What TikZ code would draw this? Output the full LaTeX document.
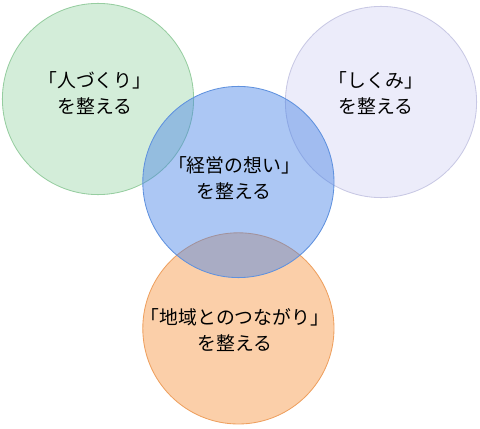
\documentclass[tikz,border=0pt]{standalone}
\usepackage{fontspec}
\newfontfamily\jp{Noto Sans CJK JP}
\definecolor{greenfill}{RGB}{168,220,180}
\definecolor{greenline}{RGB}{150,205,160}
\definecolor{purplefill}{RGB}{236,236,250}
\definecolor{purpleline}{RGB}{200,200,228}
\definecolor{bluefill}{RGB}{70,130,230}
\definecolor{blueline}{RGB}{95,145,222}
\definecolor{orangefill}{RGB}{245,140,50}
\definecolor{orangeline}{RGB}{238,160,95}
\begin{document}
\begin{tikzpicture}[
    ring/.style={circle, minimum size=4.78cm, inner sep=0pt, line width=0.6pt},
    label/.style={align=center, font=\jp\fontsize{13.4}{18.5}\selectfont}
]
        \useasboundingbox (0,0) rectangle (12,10.7);

        \node[ring, draw=greenline, fill=greenfill, fill opacity=0.5] (people) at (2.45,8.225) {};
        \node[ring, draw=purpleline, fill=purplefill] (system) at (9.525,8.15) {};
        \node[ring, draw=orangeline, fill=orangefill, fill opacity=0.42] (region) at (5.96,2.49) {};
        \node[ring, draw=blueline, fill=bluefill, fill opacity=0.45] (vision) at (5.96,6.15) {};

        \node[label] (peopletext) at (2.375,8.375) {「人づくり」\\を整える};
        \node[label] (systemtext) at (9.4,8.375) {「しくみ」\\を整える};
        \node[label] (visiontext) at (5.85,6.26) {「経営の想い」\\を整える};
        \node[label] (regiontext) at (5.875,2.45) {「地域とのつながり」\\を整える};
\end{tikzpicture}
\end{document}
